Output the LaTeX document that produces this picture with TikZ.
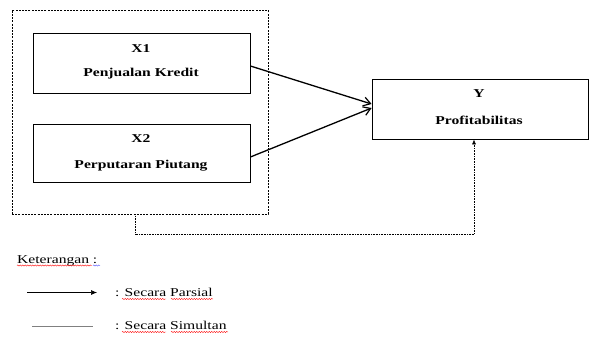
\documentclass[tikz,border=0pt]{standalone}
\usepackage{fontspec}
\setmainfont{Liberation Serif}[FakeStretch=1.3]
\usetikzlibrary{arrows.meta,decorations.pathmorphing}
\begin{document}
\begin{tikzpicture}[x=1pt,y=-1pt,
  font=\fontsize{12}{14}\selectfont,
  varbox/.style={draw,line width=0.8pt,inner sep=0pt,minimum width=#1},
  lbl/.style={anchor=base,font=\fontsize{12}{14}\selectfont\bfseries,inner sep=0pt},
  txt/.style={anchor=base west,inner sep=0pt},
  partial/.style={line width=1.3pt,-{Straight Barb[length=7pt,width=9pt,line width=1.2pt]}},
  squig/.style={red,line width=0.4pt,decorate,decoration={snake,amplitude=0.6pt,segment length=2.5pt}}]
\useasboundingbox (0,0) rectangle (593,338);
% outer dashed group
\node[draw,line width=0.6pt,dash pattern=on 2pt off 1.2pt,inner sep=0pt,minimum width=256pt,minimum height=204pt] (outer) at (140,112) {};
% variable boxes
\node[varbox=217pt,minimum height=60pt] (x1) at (141.5,63) {};
\node[varbox=217pt,minimum height=58pt] (x2) at (141.5,153) {};
\node[varbox=216pt,minimum height=60pt] (y) at (480,109) {};
% texts
\node[lbl] (x1a) at (141,52) {X1};
\node[lbl] (x1b) at (141,76) {Penjualan Kredit};
\node[lbl] (x2a) at (141,142) {X2};
\node[lbl] (x2b) at (141,168) {Perputaran Piutang};
\node[lbl] (ya) at (479,97) {Y};
\node[lbl] (yb) at (479,124) {Profitabilitas};
% partial arrows
\draw[partial] ([yshift=-3pt]x1.east) -- ([yshift=5pt]y.west);
\draw[partial] ([yshift=-4pt]x2.east) -- ([yshift=1pt]y.west);
% simultaneous connector
\draw[line width=0.6pt,densely dotted,-{Latex[length=5pt,width=4pt]}]
  ([xshift=-5pt]outer.south) -- ++(0,20) -| ([xshift=-6pt]y.south);
% legend
\node[txt] (ket) at (17,263) {Keterangan :};
\coordinate (la1) at (27,292.5);
\coordinate (la2) at (97,292.5);
\draw[line width=0.6pt,-{Latex[length=6pt,width=5pt]}] (la1) -- (la2);
\node[txt] (parsial) at (115,296) {: Secara Parsial};
\coordinate (lb1) at (32,326);
\coordinate (lb2) at (93,326);
\draw[line width=0.6pt,gray] (lb1) -- (lb2);
\node[txt] (simultan) at (115,329) {: Secara Simultan};
% spell-check underlines
\draw[squig] (17,265.5) -- (92,265.5);
\draw[squig,blue!70] (93,265.5) -- (100,265.5);
\draw[squig] (122,299) -- (166,299);
\draw[squig] (171,299) -- (213,299);
\draw[squig] (122,332) -- (166,332);
\draw[squig] (171,332) -- (228,332);
\end{tikzpicture}
\end{document}
